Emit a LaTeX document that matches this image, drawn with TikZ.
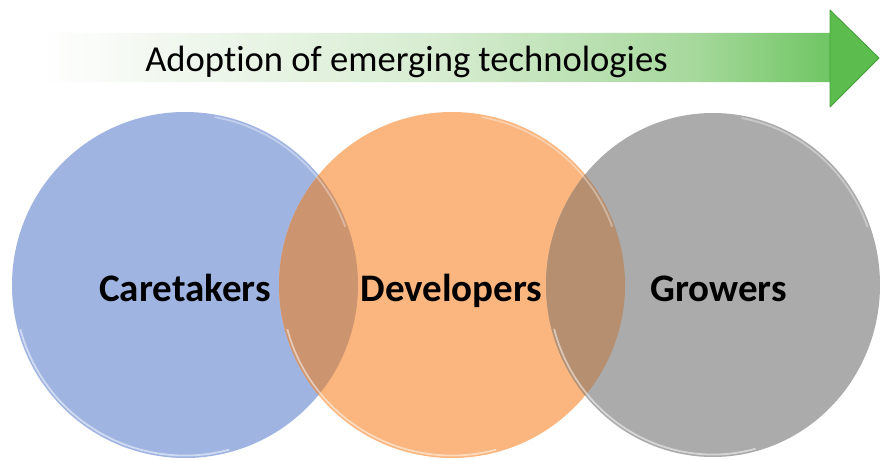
\documentclass[tikz,border=0pt]{standalone}
\usepackage{fontspec}
\setmainfont[Ligatures=NoCommon]{Carlito}
\usetikzlibrary{calc}

\definecolor{bluefill}{RGB}{160,180,226}
\definecolor{orangefill}{RGB}{250,182,126}
\definecolor{grayfill}{RGB}{171,171,171}
\definecolor{boOverlap}{RGB}{205,148,112}
\definecolor{ogOverlap}{RGB}{181,143,111}
\definecolor{gA}{RGB}{244,249,242}
\definecolor{gB}{RGB}{214,236,208}
\definecolor{gC}{RGB}{166,216,156}
\definecolor{gD}{RGB}{112,198,100}
\definecolor{gE}{RGB}{82,182,70}
\definecolor{headfill}{RGB}{92,188,78}
\definecolor{headedge}{RGB}{66,160,56}

% Fade from white to green along the arrow (25bp..75bp spans the path)
\pgfdeclarehorizontalshading{adoptshade}{100bp}{%
  color(0bp)=(white); color(25bp)=(white); color(31bp)=(gA);
  color(49bp)=(gB); color(64bp)=(gC); color(72bp)=(gD);
  color(75bp)=(gE); color(100bp)=(gE)}

\tikzset{
  title/.style={font=\fontsize{36.6}{40}\selectfont, text=black, inner sep=0pt},
  group/.style={font=\bfseries\fontsize{39}{44}\selectfont, text=black, inner sep=0pt},
  rim/.style={line width=1.8pt, white, opacity=0.5},
}

\begin{document}
\begin{tikzpicture}[x=1pt,y=1pt]
\useasboundingbox (0,0) rectangle (880,459);
\fill[white] (0,0) rectangle (880,459);

% circle centres
\coordinate (cb) at (185,174);
\coordinate (co) at (452,174);
\coordinate (cg) at (713,174);

% progress arrow
\path[shading=adoptshade]
  (40,377) -- (830,377) -- (830,352) -- (879,401) -- (830,449) -- (830,426) -- (40,426) -- cycle;
\fill[headfill, draw=headedge, line width=0.8pt, line join=round]
  (830,377) -- (830,352) -- (879,401) -- (830,449) -- (830,426) -- cycle;
\node[title, anchor=base] (adopt) at (406.5,388) {Adopt\kern0pt ion of emerging technologies};

% the three groups
\fill[bluefill] (cb) circle (173);
\fill[orangefill] (co) circle (173);
\fill[grayfill] (cg) ellipse (167 and 172);

% overlaps
\begin{scope}
  \clip (cb) circle (173);
  \fill[boOverlap] (co) circle (173);
\end{scope}
\begin{scope}
  \clip (co) circle (173);
  \fill[ogOverlap] (cg) ellipse (167 and 172);
\end{scope}

% bevel highlights on the rims
\foreach \c/\r/\s in {cb/173/173, co/173/173, cg/167/172}{
  \draw[rim] ($(\c)+({(\r-2.5)*cos(195)},{(\s-2.5)*sin(195)})$)
     arc[start angle=195, end angle=285, x radius=\r-2.5, y radius=\s-2.5];
  \draw[rim, opacity=0.35] ($(\c)+({(\r-2.5)*cos(20)},{(\s-2.5)*sin(20)})$)
     arc[start angle=20, end angle=80, x radius=\r-2.5, y radius=\s-2.5];
}

% labels
\node[group, anchor=base] (care) at (185,158) {Caretakers};
\node[group, anchor=base] (dev) at (451.5,158) {Developers};
\node[group, anchor=base] (grow) at (718.5,158) {Growers};
\end{tikzpicture}
\end{document}
